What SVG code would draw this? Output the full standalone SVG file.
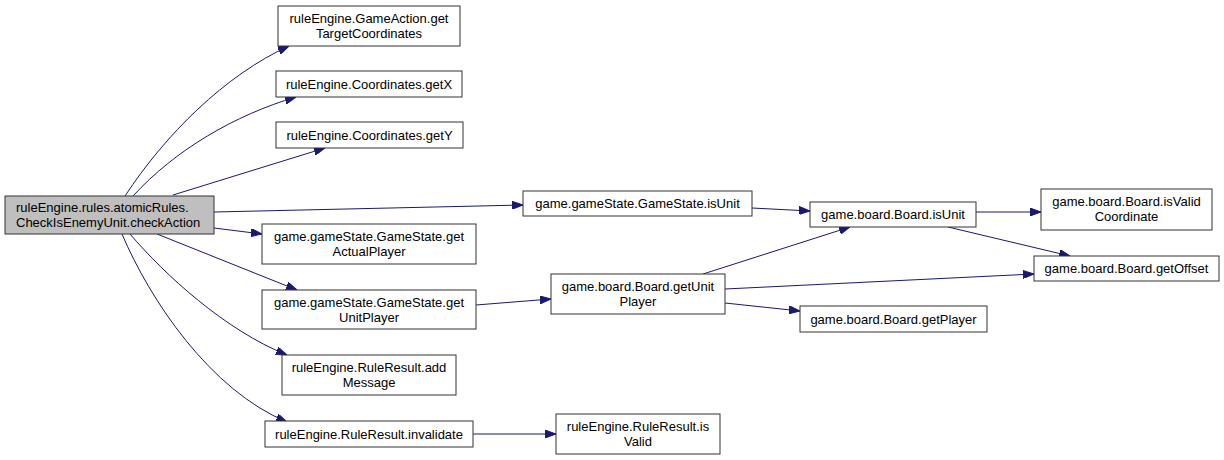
<svg xmlns="http://www.w3.org/2000/svg" width="1224" height="460" viewBox="0 0 1224 460">
<style>
.n rect{fill:#fff;stroke:#333;stroke-width:1}
.n.main rect{fill:#bfbfbf}
.n text{font-family:"Liberation Sans",Arial,sans-serif;font-size:13px;fill:#000;text-anchor:middle}
.n.main text{text-anchor:start}
.e path{fill:none;stroke:#191970;stroke-width:1;marker-end:url(#ah)}
</style>
<defs>
<marker id="ah" markerUnits="userSpaceOnUse" markerWidth="11" markerHeight="8" refX="11" refY="4" orient="auto">
<path d="M0,0 L11,4 L0,8 z" fill="#191970" stroke="#191970"/>
</marker>
</defs>
<rect width="1224" height="460" fill="#fff"/>
<g id="edges" class="e">
<path d="M125,196 C165,135 225,75 289,46"/>
<path d="M133,196 C175,150 235,115 296,97"/>
<path d="M173,195 L325,148"/>
<path d="M214,212 L523,205"/>
<path d="M214,228 L262,234"/>
<path d="M157,234 L297,290"/>
<path d="M130,234 C165,275 225,330 287,355"/>
<path d="M122,234 C150,300 210,390 287,422"/>
<path d="M476,305 L551,299"/>
<path d="M473,434 L556,434"/>
<path d="M752,208 L810,211"/>
<path d="M703,274 L850,227"/>
<path d="M725,289 L1034,274"/>
<path d="M725,303 L800,311"/>
<path d="M976,212 L1041,212"/>
<path d="M948,227 L1070,256"/>
</g>
<g id="n_main" class="n main"><rect x="5" y="196" width="209" height="38"/><text x="16" y="212">ruleEngine.rules.atomicRules.</text><text x="16" y="227">CheckIsEnemyUnit.checkAction</text></g>
<g id="n_getTarget" class="n"><rect x="278" y="6" width="182" height="40"/><text x="369" y="23">ruleEngine.GameAction.get</text><text x="369" y="38">TargetCoordinates</text></g>
<g id="n_getX" class="n"><rect x="276" y="71" width="186" height="26"/><text x="369" y="88.5">ruleEngine.Coordinates.getX</text></g>
<g id="n_getY" class="n"><rect x="276" y="122" width="187" height="26"/><text x="369.5" y="139.5">ruleEngine.Coordinates.getY</text></g>
<g id="n_gsIsUnit" class="n"><rect x="523" y="191" width="229" height="25"/><text x="637.5" y="208">game.gameState.GameState.isUnit</text></g>
<g id="n_actual" class="n"><rect x="262" y="224" width="214" height="40"/><text x="369" y="241">game.gameState.GameState.get</text><text x="369" y="256">ActualPlayer</text></g>
<g id="n_gsUnitPlayer" class="n"><rect x="262" y="290" width="214" height="39"/><text x="369" y="306.5">game.gameState.GameState.get</text><text x="369" y="321.5">UnitPlayer</text></g>
<g id="n_addMessage" class="n"><rect x="282" y="355" width="174" height="40"/><text x="369" y="372">ruleEngine.RuleResult.add</text><text x="369" y="387">Message</text></g>
<g id="n_invalidate" class="n"><rect x="265" y="421" width="208" height="26"/><text x="369" y="438.5">ruleEngine.RuleResult.invalidate</text></g>
<g id="n_boardUnitPlayer" class="n"><rect x="551" y="274" width="174" height="40"/><text x="638" y="291">game.board.Board.getUnit</text><text x="638" y="306">Player</text></g>
<g id="n_isValid" class="n"><rect x="556" y="414" width="164" height="40"/><text x="638" y="431">ruleEngine.RuleResult.is</text><text x="638" y="446">Valid</text></g>
<g id="n_boardIsUnit" class="n"><rect x="810" y="202" width="166" height="25"/><text x="893" y="219">game.board.Board.isUnit</text></g>
<g id="n_isValidCoord" class="n"><rect x="1041" y="189" width="171" height="41"/><text x="1126.5" y="206">game.board.Board.isValid</text><text x="1126.5" y="221">Coordinate</text></g>
<g id="n_getOffset" class="n"><rect x="1034" y="256" width="185" height="25"/><text x="1126.5" y="273">game.board.Board.getOffset</text></g>
<g id="n_getPlayer" class="n"><rect x="800" y="306" width="187" height="26"/><text x="893.5" y="323.5">game.board.Board.getPlayer</text></g>
</svg>
